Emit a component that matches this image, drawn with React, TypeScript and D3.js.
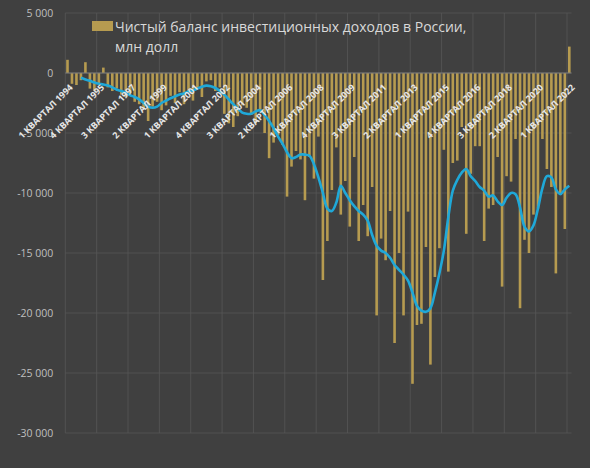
import { useEffect, useRef } from 'react';
import * as d3 from 'd3';

// quarterly balance, mln USD, 1Q1994 .. 1Q2022
const barValues = [
  1100, -900, -1000, -600, 900, -1300, -1500, -900, 450, -1200,
  -1500, -1300, -1800, -2000, -1700, -2400, -2600, -3000, -4000, -2800,
  -2400, -3100, -2700, -1900, -2500, -1600, -2600, -1600, -2300, -1300,
  -2000, -700, -600, -1500, -1200, -3400, -4200, -4500, -3600, -2700,
  -2900, -3500, -4200, -3200, -5000, -7100, -5800, -5200, -6000, -10300,
  -7800, -6500, -7200, -10600, -7000, -8800, -5300, -17250, -14000, -9750,
  -6200, -11800, -9000, -12800, -7000, -14000, -11000, -13600, -9500, -20200,
  -13800, -15600, -11500, -22500, -15000, -20200, -11550, -25900, -21000, -20900,
  -14500, -24300, -17000, -14600, -6400, -16550, -7500, -7300, -4500, -13400,
  -8400, -6100, -6100, -14000, -11300, -11000, -7000, -17800, -8600, -9050,
  -5500, -19600, -13900, -15000, -11800, -11300, -5500, -8000, -9500, -16700,
  -10000, -13000, 2200,
];

// smoothed line, starts at the 4th quarter
const lineStart = 3;
const lineValues = [
  -400, -550, -650, -800, -900, -950, -1050, -1200, -1400, -1500,
  -1650, -1850, -2000, -2200, -2500, -2800, -2900, -2800, -2500, -2300,
  -2100, -1950, -1800, -1700, -1550, -1450, -1300, -1150, -1050, -1100,
  -1250, -1500, -1800, -2200, -2600, -2950, -3300, -3400, -3400, -3200,
  -3100, -3500, -4000, -4600, -5300, -5900, -6600, -7100, -7000, -6800,
  -6800, -6900, -7600, -8700, -10000, -11300, -11500, -10800, -9400, -10000,
  -10600, -11100, -11500, -11800, -12300, -13500, -14400, -14800, -15000, -15400,
  -16000, -16400, -16800, -17300, -18300, -19400, -19800, -19900, -19600, -18300,
  -16700, -14800, -12000, -9800, -8900, -8300, -8000, -8600, -9000, -9500,
  -9800, -10300, -10200, -10700, -11000, -10400, -10000, -10100, -11200, -12800,
  -13200, -12700, -11300, -9600, -8600, -8700, -9700, -10100, -9700, -9400,
];

const tickLabels = [
  '1 КВАРТАЛ 1994', '4 КВАРТАЛ 1995', '3 КВАРТАЛ 1997', '2 КВАРТАЛ 1999',
  '1 КВАРТАЛ 2001', '4 КВАРТАЛ 2002', '3 КВАРТАЛ 2004', '2 КВАРТАЛ 2006',
  '1 КВАРТАЛ 2008', '4 КВАРТАЛ 2009', '3 КВАРТАЛ 2011', '2 КВАРТАЛ 2013',
  '1 КВАРТАЛ 2015', '4 КВАРТАЛ 2016', '3 КВАРТАЛ 2018', '2 КВАРТАЛ 2020',
  '1 КВАРТАЛ 2022',
];
const tickStep = 7;
const yTicks = [5000, 0, -5000, -10000, -15000, -20000, -25000, -30000];
const legendLines = ['Чистый баланс инвестиционных доходов в России,', 'млн долл'];

export default function App() {
  const svgRef = useRef<SVGSVGElement>(null);

  useEffect(() => {
    if (!svgRef.current) return;
    const svg = d3.select(svgRef.current);
    svg.selectAll('*').remove();

    const width = 590;
    const height = 468;
    const left = 65.3;
    const right = 571.5;
    const top = 13;
    const bottom = 433;

    svg.append('rect').attr('width', width).attr('height', height).attr('fill', '#404040');

    const idx = barValues.map((_, i) => i);
    const x = d3.scaleBand<number>().domain(idx).range([left, right]).paddingInner(0.42).paddingOuter(0.2);
    const xb = d3.scaleLinear().domain([0, barValues.length]).range([left, right]);
    const y = d3.scaleLinear().domain([-30000, 5000]).range([bottom, top]);

    // gridlines
    const grid = svg.append('g');
    grid.selectAll('line.h')
      .data(yTicks)
      .enter()
      .append('line')
      .attr('x1', left)
      .attr('x2', right)
      .attr('y1', d => y(d))
      .attr('y2', d => y(d))
      .attr('stroke', '#575757')
      .attr('stroke-width', 0.8);
    const vIdx = d3.range(0, barValues.length, tickStep);
    grid.selectAll('line.v')
      .data(vIdx)
      .enter()
      .append('line')
      .attr('x1', d => xb(d))
      .attr('x2', d => xb(d))
      .attr('y1', top)
      .attr('y2', bottom)
      .attr('stroke', '#575757')
      .attr('stroke-width', 0.8);

    // y axis
    const fmt = (v: number) => (v < 0 ? '-' : '') + d3.format(',')(Math.abs(v)).replace(/,/g, ' ');
    const yAxis = svg.append('g')
      .attr('transform', `translate(${left - 12},0)`)
      .call(d3.axisLeft(y).tickValues(yTicks).tickFormat(d => fmt(d as number)).tickSize(0).tickPadding(0));
    yAxis.select('.domain').remove();
    yAxis.selectAll('text')
      .attr('fill', '#bfbfbf')
      .style('font-family', '"Open Sans", sans-serif')
      .style('font-size', '10.5px');

    // bars
    svg.append('g')
      .selectAll('rect')
      .data(barValues)
      .enter()
      .append('rect')
      .attr('x', (_, i) => x(i) || 0)
      .attr('width', x.bandwidth())
      .attr('y', d => y(Math.max(0, d)))
      .attr('height', d => Math.abs(y(d) - y(0)))
      .attr('fill', '#b69b50');

    // zero axis
    svg.append('line')
      .attr('x1', left).attr('x2', right)
      .attr('y1', y(0)).attr('y2', y(0))
      .attr('stroke', '#7a7a7a')
      .attr('stroke-width', 1);

    // smoothed line
    const line = d3.line<number>()
      .x((_, i) => (x(i + lineStart) || 0) + x.bandwidth() / 2)
      .y(d => y(d))
      .curve(d3.curveCatmullRom.alpha(0.5));
    svg.append('path')
      .datum(lineValues)
      .attr('d', line)
      .attr('fill', 'none')
      .attr('stroke', '#1fa8d8')
      .attr('stroke-width', 2.6)
      .attr('stroke-linejoin', 'round');

    // rotated category labels
    svg.append('g')
      .selectAll('text')
      .data(tickLabels)
      .enter()
      .append('text')
      .attr('transform', (_, k) => {
        const cx = (x(k * tickStep) || 0) + x.bandwidth() / 2 + 6;
        return `translate(${cx},${y(0) + 15}) rotate(-45)`;
      })
      .attr('text-anchor', 'end')
      .attr('fill', '#e6e6e6')
      .style('font-family', '"Open Sans", sans-serif')
      .style('font-weight', 'bold')
      .style('font-size', '9px')
      .text(d => d);

    // legend
    const lg = svg.append('g');
    lg.append('rect')
      .attr('x', 92).attr('y', 21).attr('width', 21).attr('height', 10)
      .attr('fill', '#b69b50');
    lg.selectAll('text')
      .data(legendLines)
      .enter()
      .append('text')
      .attr('x', 115)
      .attr('y', (_, i) => 32 + i * 20)
      .attr('fill', '#d9d9d9')
      .style('font-family', '"Open Sans", sans-serif')
      .style('font-size', '14px')
      .text(d => d);
  }, []);

  return (
    <svg
      ref={svgRef}
      width={590}
      height={468}
      style={{ position: 'absolute', left: 0, top: 0, display: 'block' }}
    />
  );
}
